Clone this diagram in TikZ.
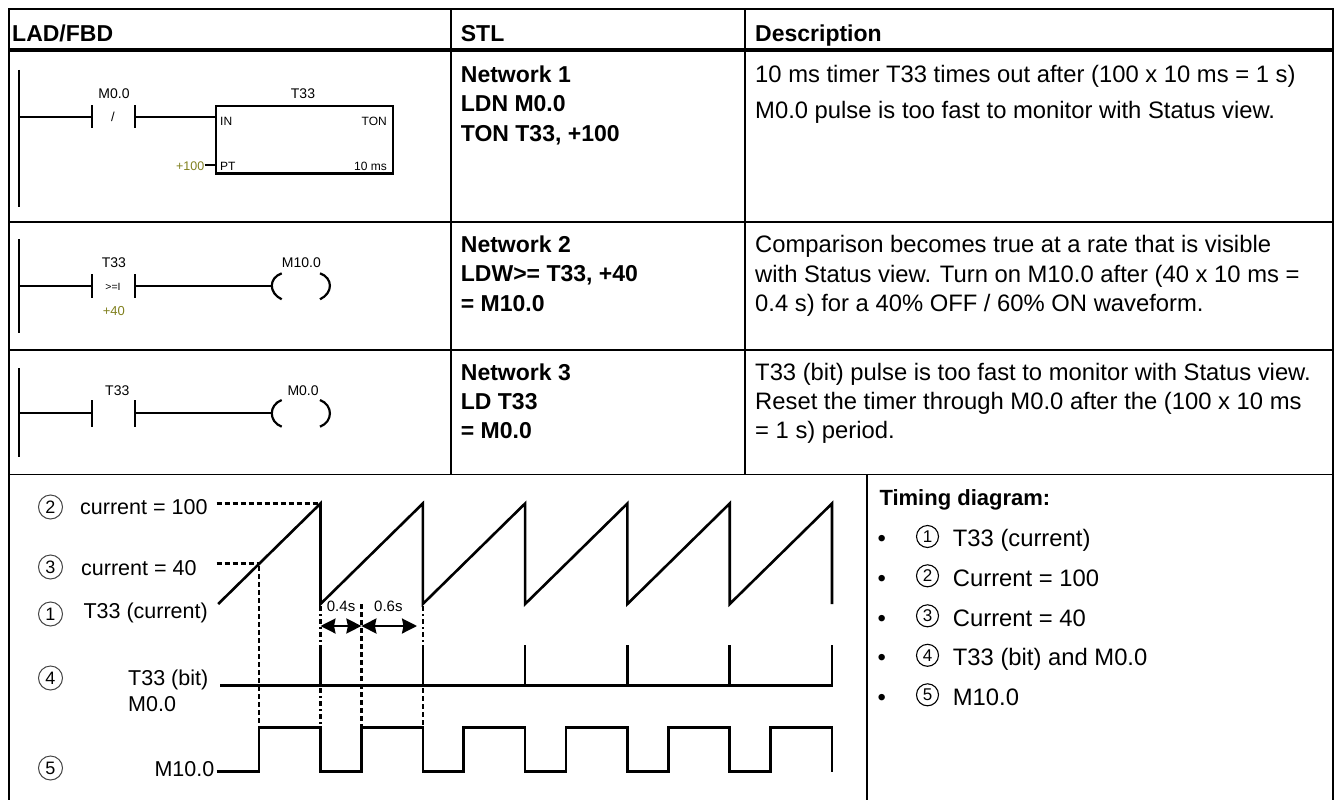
\documentclass[tikz,border=0pt]{standalone}
\usepackage{fontspec}
\setmainfont{Liberation Sans}
\usetikzlibrary{arrows.meta}
\definecolor{olivetxt}{RGB}{128,128,30}
\definecolor{circgray}{RGB}{70,70,70}
\tikzset{
  tbl/.style={line width=1.8pt, line cap=rect},
  tblhead/.style={line width=3.8pt},
  hdr/.style={font=\fontsize{23}{28}\selectfont\bfseries, anchor=base west, inner sep=0pt},
  stl/.style={font=\fontsize{23}{28}\selectfont\bfseries, anchor=base west, inner sep=0pt},
  desc/.style={font=\fontsize{23.8}{28}\selectfont, anchor=base west, inner sep=0pt},
  lbl/.style={font=\fontsize{14}{16}\selectfont, inner sep=0pt, anchor=base west},
  lblc/.style={font=\fontsize{14}{16}\selectfont, inner sep=0pt, anchor=base},
  boxt/.style={font=\fontsize{12}{14}\selectfont, inner sep=0pt},
  rung/.style={line width=2.2pt},
  rail/.style={line width=2.4pt},
  cbar/.style={line width=2.4pt},
  wave/.style={line width=2.6pt, line join=miter},
  dsh/.style={line width=2.6pt, dash pattern=on 5pt off 3pt},
  dshdot/.style={line width=2.6pt, dash pattern=on 5pt off 3pt on 2pt off 3pt},
  tlbl/.style={font=\fontsize{21.5}{26}\selectfont, inner sep=0pt, anchor=base west},
  cnum/.style={circle, draw=circgray, line width=1pt, minimum size=24pt, inner sep=0pt, font=\fontsize{18}{18}\selectfont},
  cnumr/.style={circle, draw=black, line width=1.1pt, minimum size=22pt, inner sep=0pt, font=\fontsize{17}{17}\selectfont},
  arr/.style={line width=2.2pt, {Stealth[length=15pt,width=15pt,inset=1.5pt]}-{Stealth[length=15pt,width=15pt,inset=1.5pt]}},
}
\begin{document}
\begin{tikzpicture}[x=1pt,y=-1pt]
\useasboundingbox (0,0) rectangle (1338,800);
% ---------------- table ----------------
\draw[tbl] (9,800) -- (9,9) -- (1333,9) -- (1333,800);
\draw[tblhead] (9,50) -- (1333,50);
\draw[tbl] (9,222) -- (1333,222);
\draw[tbl] (9,350) -- (1333,350);
\draw[tbl] (9,474.5) -- (1333,474.5);
\draw[tbl] (451,9) -- (451,474.5);
\draw[tbl] (745,9) -- (745,474.5);
\draw[tbl] (866.7,474.5) -- (866.7,800);
% header
\node[hdr] (hLAD) at (12,42) {LAD/FBD};
\node[hdr] (hSTL) at (460.7,42) {STL};
\node[hdr] (hDesc) at (755,42) {Description};
% STL
\node[stl] (s11) at (460.7,82.7) {Network 1};
\node[stl] (s12) at (460.7,111.7) {LDN M0.0};
\node[stl] (s13) at (460.7,141.2) {TON T33, +100};
\node[stl] (s21) at (460.7,252.7) {Network 2};
\node[stl] (s22) at (460.7,281.7) {LDW>= T33, +40};
\node[stl] (s23) at (460.7,311.2) {= M10.0};
\node[stl] (s31) at (460.7,380) {Network 3};
\node[stl] (s32) at (460.7,409.3) {LD T33};
\node[stl] (s33) at (460.7,438.3) {= M0.0};
% Description
\node[desc] (d11) at (755,82.7) {10 ms timer T33 times out after (100 x 10 ms = 1 s)};
\node[desc] (d12) at (755,118.3) {M0.0 pulse is too fast to monitor with Status view.};
\node[desc] (d21) at (755,252.7) {Comparison becomes true at a rate that is visible};
\node[desc] (d22) at (755,282) {with Status view. Turn on M10.0 after (40 x 10 ms =};
\node[desc] (d23) at (755,311.7) {0.4 s) for a 40\% OFF / 60\% ON waveform.};
\node[desc] (d31) at (755,380) {T33 (bit) pulse is too fast to monitor with Status view.};
\node[desc] (d32) at (755,409.3) {Reset the timer through M0.0 after the (100 x 10 ms};
\node[desc] (d33) at (755,438.3) {= 1 s) period.};
% ---------------- LAD network 1 ----------------
\coordinate (r1t) at (19,70); \coordinate (r1b) at (19,206.7);
\draw[rail] (r1t) -- (r1b);
\coordinate (r1) at (19,116.7);
\coordinate (c1l) at (91.7,116.7); \coordinate (c1r) at (135,116.7);
\draw[rung] (r1) -- (c1l);
\draw[cbar] (91.7,105) -- (91.7,128.3);
\draw[cbar] (135,105) -- (135,128.3);
\node[boxt, font=\fontsize{13}{13}\selectfont] (slash) at (113,117) {/};
\node[draw, line width=2.2pt, minimum width=176.7pt, minimum height=67.3pt, anchor=north west, inner sep=0pt] (ton) at (215,105) {};
\draw[rung] (c1r) -- (ton.west |- c1r);
\node[lblc] (lm00) at (114,98.3) {M0.0};
\node[lblc] (lt33a) at (303,98.3) {T33};
\node[boxt, anchor=base west] (tin) at (220,125) {IN};
\node[boxt, anchor=base east] (tton) at (387,125) {TON};
\node[boxt, anchor=base west] (tpt) at (220,170) {PT};
\node[boxt, anchor=base east] (tms) at (387,170) {10 ms};
\node[boxt, anchor=base east, text=olivetxt, font=\fontsize{12.5}{14}\selectfont] (p100) at (204.5,170) {+100};
\draw[line width=1.5pt] (p100.east |- 0,165) -- (ton.west |- 0,165);
% ---------------- LAD network 2 ----------------
\draw[rail] (19,239.3) -- (19,333.3);
\coordinate (r2) at (19,285.7);
\coordinate (c2l) at (91.7,285.7); \coordinate (c2r) at (135,285.7);
\coordinate (k2l) at (271.7,285.7);
\draw[rung] (r2) -- (c2l);
\draw[cbar] (91.7,274) -- (91.7,298.3);
\draw[cbar] (135,274) -- (135,298.3);
\draw[rung] (c2r) -- (k2l);
\draw[rung] (281.7,273.3) .. controls (268.5,278) and (268.5,293) .. (281.7,299.3);
\draw[rung] (320,273.3) .. controls (333.2,278) and (333.2,293) .. (320,299.3);
\node[boxt, anchor=base, font=\fontsize{10.5}{11}\selectfont] (cmp) at (113,290) {>=I};
\node[lbl] (lt33b) at (101.7,267.3) {T33};
\node[lbl, text=olivetxt, font=\fontsize{13}{14}\selectfont] (p40) at (102.7,315.7) {+40};
\node[lbl] (lm100) at (281.7,267.3) {M10.0};
% ---------------- LAD network 3 ----------------
\draw[rail] (19,368.3) -- (19,456.7);
\coordinate (r3) at (19,413.3);
\coordinate (c3l) at (91.7,413.3); \coordinate (c3r) at (135,413.3);
\coordinate (k3l) at (271.7,413.3);
\draw[rung] (r3) -- (c3l);
\draw[cbar] (91.7,400) -- (91.7,426.7);
\draw[cbar] (135,400) -- (135,426.7);
\draw[rung] (c3r) -- (k3l);
\draw[rung] (281.7,400) .. controls (268.5,405) and (268.5,421.7) .. (281.7,426.7);
\draw[rung] (320,400) .. controls (333.2,405) and (333.2,421.7) .. (320,426.7);
\node[lbl] (lt33c) at (105,395) {T33};
\node[lbl] (lm00c) at (287.3,395) {M0.0};
% ---------------- timing diagram left ----------------
\node[cnum] (n2) at (50.5,507) {2};
\node[cnum] (n3) at (50.5,567) {3};
\node[cnum] (n1) at (50.5,614) {1};
\node[cnum] (n4) at (50.5,678) {4};
\node[cnum] (n5) at (50.5,768) {5};
\node[tlbl] (lc100) at (80,514) {current = 100};
\node[tlbl] (lc40) at (81,575) {current = 40};
\node[tlbl] (lcur) at (83.3,618.3) {T33 (current)};
\node[tlbl] (lbit) at (128,685) {T33 (bit)};
\node[tlbl] (lm0) at (128,711) {M0.0};
\node[tlbl, anchor=base east] (lm10) at (214.5,776) {M10.0};
% dashed level lines
\draw[dsh] (216.7,503.5) -- (318,503.5);
\draw[dsh] (216.7,563.5) -- (259.1,563.5);
% ramp
\draw[wave] (218.2,604) -- (320.5,503.5) -- (320.5,604) -- (422.8,503.5) -- (422.8,604)
  -- (525.1,503.5) -- (525.1,604) -- (627.4,503.5) -- (627.4,604) -- (729.7,503.5)
  -- (729.7,604) -- (832.0,503.5) -- (832.0,604);
% T33 bit
\draw[wave] (220,685.7) -- (832.6,685.7);
\foreach \x in {320.5,422.8,525.1,627.4,729.7,832.0}
  \draw[wave] (\x,645) -- (\x,685.7);
% M10.0
\draw[wave] (216.7,771.7) -- (259.1,771.7) -- (259.1,727.3) -- (320.5,727.3) -- (320.5,771.7)
  -- (361.4,771.7) -- (361.4,727.3) -- (422.8,727.3) -- (422.8,771.7)
  -- (463.7,771.7) -- (463.7,727.3) -- (525.1,727.3) -- (525.1,771.7)
  -- (566.0,771.7) -- (566.0,727.3) -- (627.4,727.3) -- (627.4,771.7)
  -- (668.3,771.7) -- (668.3,727.3) -- (729.7,727.3) -- (729.7,771.7)
  -- (770.6,771.7) -- (770.6,727.3) -- (832.0,727.3) -- (832.0,771.7);
% vertical guides
\draw[dsh] (259.1,566) -- (259.1,727.3);
\draw[dshdot] (320.5,606) -- (320.5,645);
\draw[dshdot] (320.5,688) -- (320.5,727.3);
\draw[dsh] (361.4,604) -- (361.4,727.3);
\draw[dshdot] (422.8,606) -- (422.8,645);
\draw[dsh] (422.8,688) -- (422.8,727.3);
% time spans
\coordinate (a0) at (320.5,626); \coordinate (a1) at (361.4,626); \coordinate (a2) at (417,626);
\draw[arr] (a0) -- (a1);
\draw[arr] (a1) -- (a2);
\node[font=\fontsize{15}{16}\selectfont, inner sep=0pt, anchor=base west] (t04) at (326.7,611.7) {0.4s};
\node[font=\fontsize{15}{16}\selectfont, inner sep=0pt, anchor=base west] (t06) at (374,611.7) {0.6s};
% ---------------- timing diagram right ----------------
\node[font=\fontsize{22}{26}\selectfont\bfseries, inner sep=0pt, anchor=base west] (tdh) at (879.3,505) {Timing diagram:};
\foreach \y/\n/\t in {546.7/1/T33 (current), 586/2/Current = 100, 626/3/Current = 40, 665.5/4/T33 (bit) and M0.0, 705/5/M10.0}{
  \node[desc, anchor=base] at (881.7,\y) {•};
  \node[cnumr] at (927.5,\y-10.2) {\n};
  \node[desc] at (952.7,\y) {\t};
}
\end{tikzpicture}
\end{document}
